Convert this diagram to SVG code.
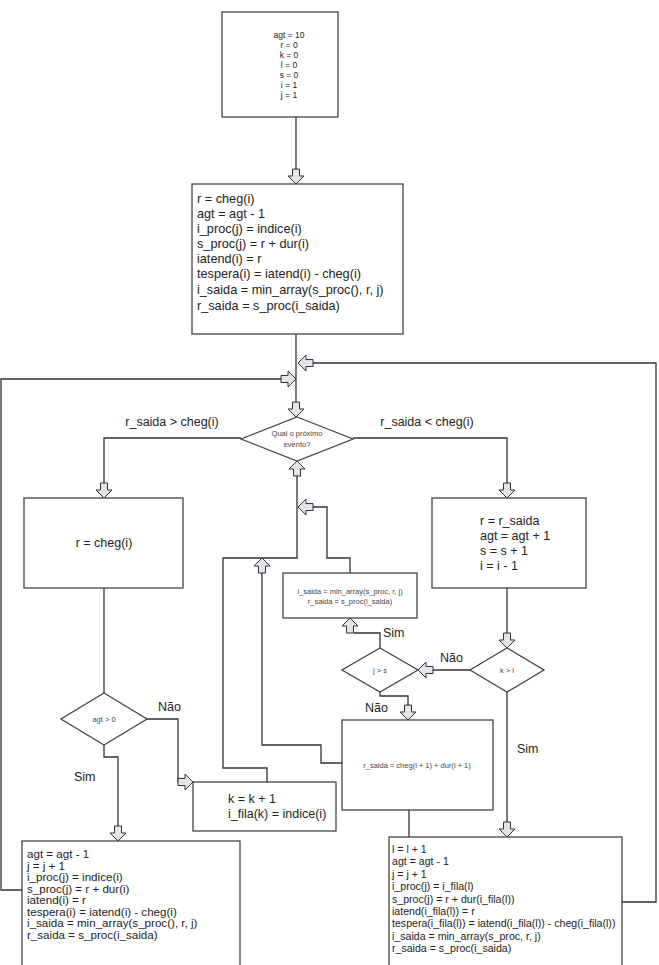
<svg xmlns="http://www.w3.org/2000/svg" xmlns:xlink="http://www.w3.org/1999/xlink" width="659" height="965" viewBox="0 0 659 965">
<style>
.bx{fill:#fff;stroke:#444;stroke-width:1.3}
.ln{fill:none;stroke:#333;stroke-width:1.3}
.ar{fill:#e2e5ea;stroke:#333;stroke-width:1}
text{font-family:"Liberation Sans",Arial,sans-serif;fill:#222}
.t12{font-size:12.7px}
.t11{font-size:11.6px}
.t10{font-size:10.6px}
.sm{font-size:7.5px;text-anchor:middle;fill:#444}
.lb{font-size:12.5px}
.c{text-anchor:middle}
</style>
<defs>
<path id="ar" class="ar" d="M-3.5,-15 H3.5 V-8 H8 L0,0 L-8,-8 H-3.5 Z"/>
</defs>
<rect width="659" height="965" fill="#fff"/>
<g id="connectors">
<path class="ln" d="M296,117 V169"/>
<path class="ln" d="M296,334 V402"/>
<path class="ln" d="M622,902 H656 V363 H312"/>
<path class="ln" d="M22,890 H1 V379 H281"/>
<path class="ln" d="M241,438 H104 V483"/>
<path class="ln" d="M353,438 H507 V483"/>
<path class="ln" d="M297,476 V558 H223 V768 H267 V782"/>
<path class="ln" d="M350,573 V558 H327 V507 H313"/>
<path class="ln" d="M262,573 V745 H321 V763 H342"/>
<path class="ln" d="M380,648 V633 H354"/>
<path class="ln" d="M507,588 V633"/>
<path class="ln" d="M470,670 H433"/>
<path class="ln" d="M380,692 V696 H408 V705"/>
<path class="ln" d="M507,692 V822"/>
<path class="ln" d="M409,810 V837"/>
<path class="ln" d="M104,588 V693"/>
<path class="ln" d="M147,719 H178 V782"/>
<path class="ln" d="M104,745 V757 H118 V826"/>
<use href="#ar" transform="translate(296,184)"/>
<use href="#ar" transform="translate(298,363) rotate(90)"/>
<use href="#ar" transform="translate(296,379) rotate(-90)"/>
<use href="#ar" transform="translate(296,417)"/>
<use href="#ar" transform="translate(104,498)"/>
<use href="#ar" transform="translate(507,498)"/>
<use href="#ar" transform="translate(297,461) rotate(180)"/>
<use href="#ar" transform="translate(298,507) rotate(90)"/>
<use href="#ar" transform="translate(262,558) rotate(180)"/>
<use href="#ar" transform="translate(350,618) rotate(180)"/>
<use href="#ar" transform="translate(507,648)"/>
<use href="#ar" transform="translate(418,670) rotate(90)"/>
<use href="#ar" transform="translate(408,720)"/>
<use href="#ar" transform="translate(507,837)"/>
<use href="#ar" transform="translate(193,782) rotate(-90)"/>
<use href="#ar" transform="translate(118,841)"/>
<text class="lb c" x="172" y="426">r_saida &gt; cheg(i)</text>
<text class="lb c" x="427" y="426">r_saida &lt; cheg(i)</text>
<text class="lb" x="383" y="637">Sim</text>
<text class="lb" x="440" y="662">Não</text>
<text class="lb" x="365" y="712">Não</text>
<text class="lb" x="158" y="711">Não</text>
<text class="lb" x="74" y="781">Sim</text>
<text class="lb" x="517" y="753">Sim</text>
</g>
<g id="n_init">
<rect class="bx" x="222" y="12" width="116" height="105"/>
<g font-size="8.5" text-anchor="middle" fill="#444">
<text x="289" y="38" fill="#444">agt = 10</text>
<text x="289" y="47.5" fill="#444">r = 0</text>
<text x="289" y="57.5" fill="#444">k = 0</text>
<text x="289" y="67.5" fill="#444">l = 0</text>
<text x="289" y="77.5" fill="#444">s = 0</text>
<text x="289" y="87.5" fill="#444">i = 1</text>
<text x="289" y="97.5" fill="#444">j = 1</text>
</g>
</g>
<g id="n_first">
<rect class="bx" x="192" y="184" width="211" height="150"/>
<g class="t12">
<text x="197" y="203">r = cheg(i)</text>
<text x="197" y="218">agt = agt - 1</text>
<text x="197" y="233">i_proc(j) = indice(i)</text>
<text x="197" y="248">s_proc(j) = r + dur(i)</text>
<text x="197" y="263">iatend(i) = r</text>
<text x="197" y="278">tespera(i) = iatend(i) - cheg(i)</text>
<text x="197" y="294">i_saida = min_array(s_proc(), r, j)</text>
<text x="197" y="310">r_saida = s_proc(i_saida)</text>
</g>
</g>
<g id="d_event">
<polygon class="bx" points="297,417 353,439 297,461 241,439"/>
<text class="sm" font-size="7" x="297" y="436">Qual o próximo</text>
<text class="sm" font-size="7" x="297" y="447">evento?</text>
</g>
<g id="n_chegada">
<rect class="bx" x="24" y="498" width="159" height="90"/>
<text class="lb c" x="104" y="547">r = cheg(i)</text>
</g>
<g id="n_saida">
<rect class="bx" x="432" y="498" width="154" height="90"/>
<g class="lb">
<text x="480" y="524.5">r = r_saida</text>
<text x="480" y="539.5">agt = agt + 1</text>
<text x="480" y="554.5">s = s + 1</text>
<text x="480" y="569.5">i = i - 1</text>
</g>
</g>
<g id="n_minarray">
<rect class="bx" x="283" y="573" width="134" height="45"/>
<text class="sm" x="350" y="594">i_saida = min_array(s_proc, r, j)</text>
<text class="sm" x="350" y="604">r_saida = s_proc(i_saida)</text>
</g>
<g id="d_js">
<polygon class="bx" points="380,648 418,670 380,692 342,670"/>
<text class="sm" x="380" y="673">j &gt; s</text>
</g>
<g id="d_kl">
<polygon class="bx" points="507,648 544,670 507,692 470,670"/>
<text class="sm" x="507" y="673">k &gt; l</text>
</g>
<g id="d_agt">
<polygon class="bx" points="104,693 147,719 104,745 61,719"/>
<text class="sm" x="104" y="722">agt &gt; 0</text>
</g>
<g id="n_rsaida">
<rect class="bx" x="342" y="720" width="151" height="90"/>
<text class="sm" x="417" y="768">r_saida = cheg(i + 1) + dur(i + 1)</text>
</g>
<g id="n_fila">
<rect class="bx" x="193" y="782" width="143" height="49"/>
<g class="lb">
<text x="228" y="803">k = k + 1</text>
<text x="228" y="818">i_fila(k) = indice(i)</text>
</g>
</g>
<g id="n_atende">
<rect class="bx" x="22" y="841" width="218" height="135"/>
<g class="t11">
<text x="27" y="858">agt = agt - 1</text>
<text x="27" y="869.5">j = j + 1</text>
<text x="27" y="881">i_proc(j) = indice(i)</text>
<text x="27" y="892.5">s_proc(j) = r + dur(i)</text>
<text x="27" y="904">iatend(i) = r</text>
<text x="27" y="915.5">tespera(i) = iatend(i) - cheg(i)</text>
<text x="27" y="927">i_saida = min_array(s_proc(), r, j)</text>
<text x="27" y="938.5">r_saida = s_proc(i_saida)</text>
</g>
</g>
<g id="n_atendefila">
<rect class="bx" x="389" y="837" width="233" height="139"/>
<g class="t10">
<text x="392" y="853">l = l + 1</text>
<text x="392" y="865.4">agt = agt - 1</text>
<text x="392" y="877.8">j = j + 1</text>
<text x="392" y="890.2">i_proc(j) = i_fila(l)</text>
<text x="392" y="902.6">s_proc(j) = r + dur(i_fila(l))</text>
<text x="392" y="915">iatend(i_fila(l)) = r</text>
<text x="392" y="927.4">tespera(i_fila(l)) = iatend(i_fila(l)) - cheg(i_fila(l))</text>
<text x="392" y="939.8">i_saida = min_array(s_proc, r, j)</text>
<text x="392" y="952.2">r_saida = s_proc(i_saida)</text>
</g>
</g>
</svg>
